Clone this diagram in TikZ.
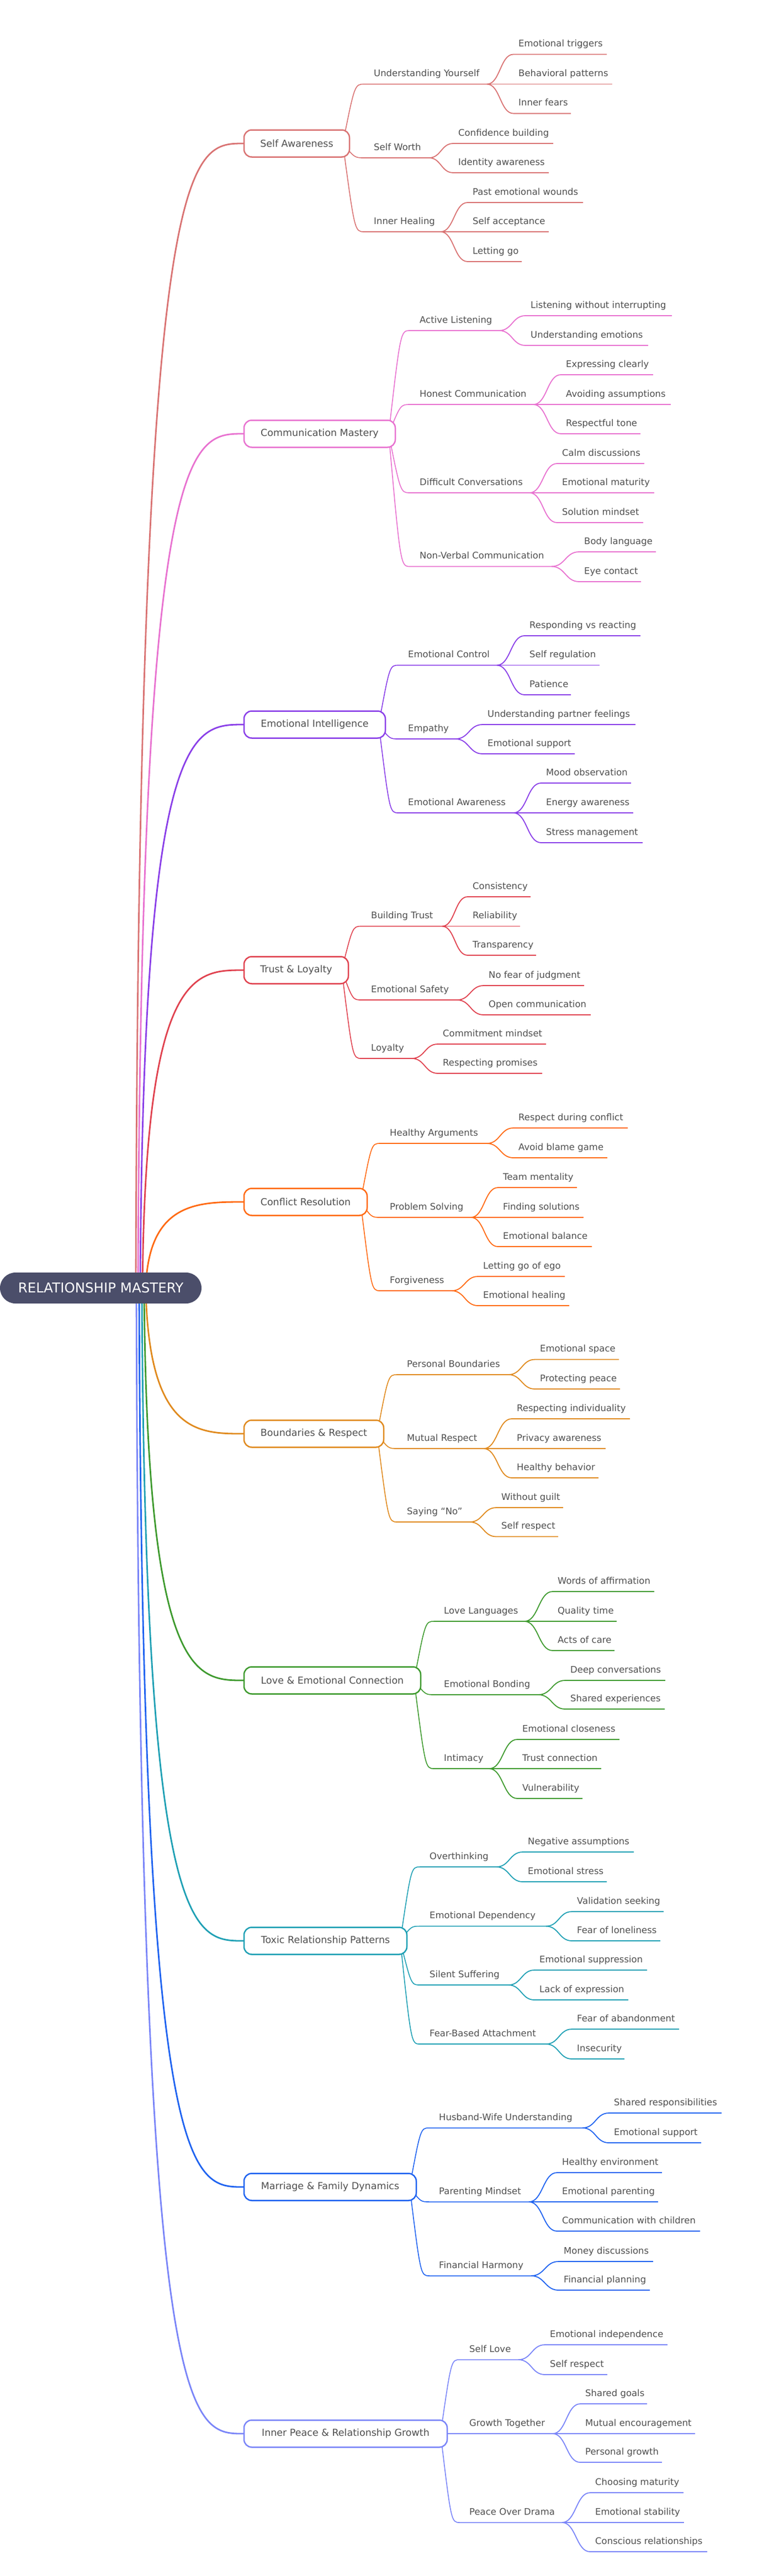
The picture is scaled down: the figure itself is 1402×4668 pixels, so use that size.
\documentclass[tikz,border=0pt]{standalone}
\usepackage{fontspec}
\setmainfont{DejaVu Sans}
\pgfdeclarelayer{background}
\pgfsetlayers{background,main}
\definecolor{txt}{HTML}{4F4F4F}
\definecolor{rootfill}{HTML}{4B4E6A}
\definecolor{cA}{RGB}{217,115,115}
\definecolor{cB}{RGB}{232,114,208}
\definecolor{cC}{RGB}{138,63,232}
\definecolor{cD}{RGB}{224,66,79}
\definecolor{cE}{RGB}{255,106,19}
\definecolor{cF}{RGB}{224,138,30}
\definecolor{cG}{RGB}{62,154,46}
\definecolor{cH}{RGB}{31,160,180}
\definecolor{cI}{RGB}{31,99,240}
\definecolor{cJ}{RGB}{122,133,248}
\tikzset{
 mainbox/.style={rectangle, rounded corners=14pt, line width=2.5pt, fill=white, minimum height=49pt, inner sep=0pt, text=txt, font=\fontsize{17.5}{20}\selectfont},
 rootbox/.style={rectangle, rounded corners=28pt, fill=rootfill, minimum width=365pt, minimum height=56pt, inner sep=0pt, text=white, font=\fontsize{24.5}{28}\selectfont},
 sublabel/.style={anchor=base west, inner sep=0pt, text=txt, font=\fontsize{16.5}{19}\selectfont},
 mainline/.style={line width=2.8pt},
 subline/.style={line width=1.6pt},
 leafline/.style={line width=1.8pt},
}
\newcommand\mmmain[6]{%
 \node[mainbox, draw=#2, minimum width={#3pt-442pt}] (#1) at ({(442+#3)/2},#4) {#6};
 \coordinate (#1-o) at (#5,2334);
 \coordinate (#1-s) at ({#3-12},#4);
 \begin{pgfonlayer}{background}
 \draw[mainline, color=#2] (#1-o) .. controls ({#5+5},#4) and ({#5+95},#4) .. (#1.west);
 \end{pgfonlayer}
 \def\curmain{#1}\def\curcol{#2}\def\curxr{#3}\def\curcy{#4}}
\newcommand\mmsub[5]{%
 \coordinate (#1-a) at (#2,#3);
 \coordinate (#1) at (#4,#3);
 \node[sublabel] (#1-l) at ({#2+17},{#3-14}) {#5};
 \begin{pgfonlayer}{background}
 \draw[subline, color=\curcol] (\curmain-s) .. controls ({\curxr-12+0.55*(#2-\curxr+12)},#3) .. (#1-a) -- (#1);
 \end{pgfonlayer}
 \def\curfork{#1}\def\curfx{#4}\def\curyu{#3}}
\newcommand\mmleaf[5]{%
 \node[sublabel] (#1) at (#2,{#3-14}) {#5};
 \coordinate (#1-a) at ({#2-9},#3);
 \coordinate (#1-e) at (#4,#3);
 \begin{pgfonlayer}{background}
 \draw[leafline, color=\curcol] (\curfork) .. controls ({\curfx+0.5*(#2-9-\curfx)},\curyu) and ({\curfx+0.5*(#2-9-\curfx)},#3) .. (#1-a) -- (#1-e);
 \end{pgfonlayer}}
\begin{document}
\begin{tikzpicture}[x=1pt,y=-1pt]
\useasboundingbox (0,0) rectangle (1402,4668);
% 1
\mmmain{m1}{cA}{633}{260}{246}{Self Awareness}
\mmsub{s11}{660}{152.5}{882}{Understanding Yourself}
\mmleaf{l111}{939}{98.5}{1099}{Emotional triggers}
\mmleaf{l112}{939}{152.5}{1109}{Behavioral patterns}
\mmleaf{l113}{939}{205.6}{1034}{Inner fears}
\mmsub{s12}{660}{286}{777}{Self Worth}
\mmleaf{l121}{830}{260}{1002}{Confidence building}
\mmleaf{l122}{830}{313}{994}{Identity awareness}
\mmsub{s13}{660}{420}{798}{Inner Healing}
\mmleaf{l131}{856}{367}{1056}{Past emotional wounds}
\mmleaf{l132}{856}{420}{994}{Self acceptance}
\mmleaf{l133}{856}{474}{945}{Letting go}
% 2
\mmmain{m2}{cB}{716}{786}{250}{Communication Mastery}
\mmsub{s21}{743}{599}{904}{Active Listening}
\mmleaf{l211}{961}{572}{1217}{Listening without interrupting}
\mmleaf{l212}{961}{626}{1174}{Understanding emotions}
\mmsub{s22}{743}{733}{966}{Honest Communication}
\mmleaf{l221}{1025}{679}{1183}{Expressing clearly}
\mmleaf{l222}{1025}{733}{1215}{Avoiding assumptions}
\mmleaf{l223}{1025}{786}{1160}{Respectful tone}
\mmsub{s23}{743}{893}{959}{Difficult Conversations}
\mmleaf{l231}{1018}{840}{1167}{Calm discussions}
\mmleaf{l232}{1018}{893}{1185}{Emotional maturity}
\mmleaf{l233}{1018}{947}{1165}{Solution mindset}
\mmsub{s24}{743}{1026.5}{999}{Non-Verbal Communication}
\mmleaf{l241}{1058}{1000}{1188}{Body language}
\mmleaf{l242}{1058}{1054}{1161}{Eye contact}
% 3
\mmmain{m3}{cC}{698}{1313}{254}{Emotional Intelligence}
\mmsub{s31}{722}{1205.5}{900}{Emotional Control}
\mmleaf{l311}{959}{1152}{1160}{Responding vs reacting}
\mmleaf{l312}{959}{1205.5}{1086}{Self regulation}
\mmleaf{l313}{959}{1259}{1034}{Patience}
\mmsub{s32}{722}{1339}{825}{Empathy}
\mmleaf{l321}{883}{1313}{1151}{Understanding partner feelings}
\mmleaf{l322}{883}{1366}{1041}{Emotional support}
\mmsub{s33}{722}{1473}{930}{Emotional Awareness}
\mmleaf{l331}{989}{1419}{1143}{Mood observation}
\mmleaf{l332}{989}{1473}{1147}{Energy awareness}
\mmleaf{l333}{989}{1527}{1164}{Stress management}
% 4
\mmmain{m4}{cD}{631}{1758}{258}{Trust \& Loyalty}
\mmsub{s41}{655}{1678.5}{801}{Building Trust}
\mmleaf{l411}{856}{1625}{961}{Consistency}
\mmleaf{l412}{856}{1678.5}{942}{Reliability}
\mmleaf{l413}{856}{1731}{971}{Transparency}
\mmsub{s42}{655}{1812}{828}{Emotional Safety}
\mmleaf{l421}{885}{1786}{1058}{No fear of judgment}
\mmleaf{l422}{885}{1839}{1070}{Open communication}
\mmsub{s43}{655}{1918}{746}{Loyalty}
\mmleaf{l431}{802}{1892}{989}{Commitment mindset}
\mmleaf{l432}{802}{1945}{982}{Respecting promises}
% 5
\mmmain{m5}{cE}{665}{2178}{264}{Conflict Resolution}
\mmsub{s51}{689}{2072}{882}{Healthy Arguments}
\mmleaf{l511}{939}{2044}{1137}{Respect during conflict}
\mmleaf{l512}{939}{2098}{1100}{Avoid blame game}
\mmsub{s52}{689}{2206}{853}{Problem Solving}
\mmleaf{l521}{911}{2152}{1045}{Team mentality}
\mmleaf{l522}{911}{2206}{1057}{Finding solutions}
\mmleaf{l523}{911}{2259}{1072}{Emotional balance}
\mmsub{s53}{689}{2339}{818}{Forgiveness}
\mmleaf{l531}{875}{2313}{1023}{Letting go of ego}
\mmleaf{l532}{875}{2366}{1031}{Emotional healing}
% 6
\mmmain{m6}{cF}{695}{2598}{264}{Boundaries \& Respect}
\mmsub{s61}{720}{2491}{921}{Personal Boundaries}
\mmleaf{l611}{978}{2463.5}{1121}{Emotional space}
\mmleaf{l612}{978}{2517}{1123}{Protecting peace}
\mmsub{s62}{720}{2625}{876}{Mutual Respect}
\mmleaf{l621}{936}{2571}{1141}{Respecting individuality}
\mmleaf{l622}{936}{2625}{1097}{Privacy awareness}
\mmleaf{l623}{936}{2678}{1084}{Healthy behavior}
\mmsub{s63}{720}{2758}{851}{Saying “No”}
\mmleaf{l631}{908}{2732}{1020}{Without guilt}
\mmleaf{l632}{908}{2784.5}{1011}{Self respect}
% 7
\mmmain{m7}{cG}{762}{3045}{261}{Love \& Emotional Connection}
\mmsub{s71}{787}{2938}{950}{Love Languages}
\mmleaf{l711}{1010}{2884}{1185}{Words of affirmation}
\mmleaf{l712}{1010}{2938}{1117}{Quality time}
\mmleaf{l713}{1010}{2991}{1113}{Acts of care}
\mmsub{s72}{787}{3071}{975}{Emotional Bonding}
\mmleaf{l721}{1033}{3045}{1205}{Deep conversations}
\mmleaf{l722}{1033}{3097}{1204}{Shared experiences}
\mmsub{s73}{787}{3205}{886}{Intimacy}
\mmleaf{l731}{946}{3152}{1122}{Emotional closeness}
\mmleaf{l732}{946}{3205}{1089}{Trust connection}
\mmleaf{l733}{946}{3259}{1055}{Vulnerability}
% 8
\mmmain{m8}{cH}{737}{3517}{257}{Toxic Relationship Patterns}
\mmsub{s81}{761}{3383}{899}{Overthinking}
\mmleaf{l811}{956}{3356}{1148}{Negative assumptions}
\mmleaf{l812}{956}{3410}{1099}{Emotional stress}
\mmsub{s82}{761}{3490.5}{989}{Emotional Dependency}
\mmleaf{l821}{1045}{3464}{1202}{Validation seeking}
\mmleaf{l822}{1045}{3517}{1196}{Fear of loneliness}
\mmsub{s83}{761}{3597}{921}{Silent Suffering}
\mmleaf{l831}{977}{3570}{1172}{Emotional suppression}
\mmleaf{l832}{977}{3624}{1138}{Lack of expression}
\mmsub{s84}{761}{3704}{989}{Fear-Based Attachment}
\mmleaf{l841}{1045}{3677}{1230}{Fear of abandonment}
\mmleaf{l842}{1045}{3731}{1131}{Insecurity}
% 9
\mmmain{m9}{cI}{754}{3963}{252}{Marriage \& Family Dynamics}
\mmsub{s91}{778}{3856}{1055}{Husband-Wife Understanding}
\mmleaf{l911}{1112}{3829}{1307}{Shared responsibilities}
\mmleaf{l912}{1112}{3883}{1270}{Emotional support}
\mmsub{s92}{778}{3990}{958}{Parenting Mindset}
\mmleaf{l921}{1018}{3937}{1199}{Healthy environment}
\mmleaf{l922}{1018}{3990}{1192}{Emotional parenting}
\mmleaf{l923}{1018}{4043}{1268}{Communication with children}
\mmsub{s93}{778}{4124}{962}{Financial Harmony}
\mmleaf{l931}{1021}{4098}{1183}{Money discussions}
\mmleaf{l932}{1021}{4150}{1177}{Financial planning}
% 10
\mmmain{m10}{cJ}{810}{4410}{247}{Inner Peace \& Relationship Growth}
\mmsub{s101}{833}{4276}{939}{Self Love}
\mmleaf{l1011}{996}{4249}{1209}{Emotional independence}
\mmleaf{l1012}{996}{4303}{1100}{Self respect}
\mmsub{s102}{833}{4410}{1001}{Growth Together}
\mmleaf{l1021}{1060}{4356}{1172}{Shared goals}
\mmleaf{l1022}{1060}{4410}{1259}{Mutual encouragement}
\mmleaf{l1023}{1060}{4462}{1199}{Personal growth}
\mmsub{s103}{833}{4571}{1018}{Peace Over Drama}
\mmleaf{l1031}{1078}{4517}{1238}{Choosing maturity}
\mmleaf{l1032}{1078}{4571}{1239}{Emotional stability}
\mmleaf{l1033}{1078}{4624}{1281}{Conscious relationships}
% root
\node[rootbox] (root) at (182.5,2334) {RELATIONSHIP MASTERY};
\end{tikzpicture}
\end{document}
